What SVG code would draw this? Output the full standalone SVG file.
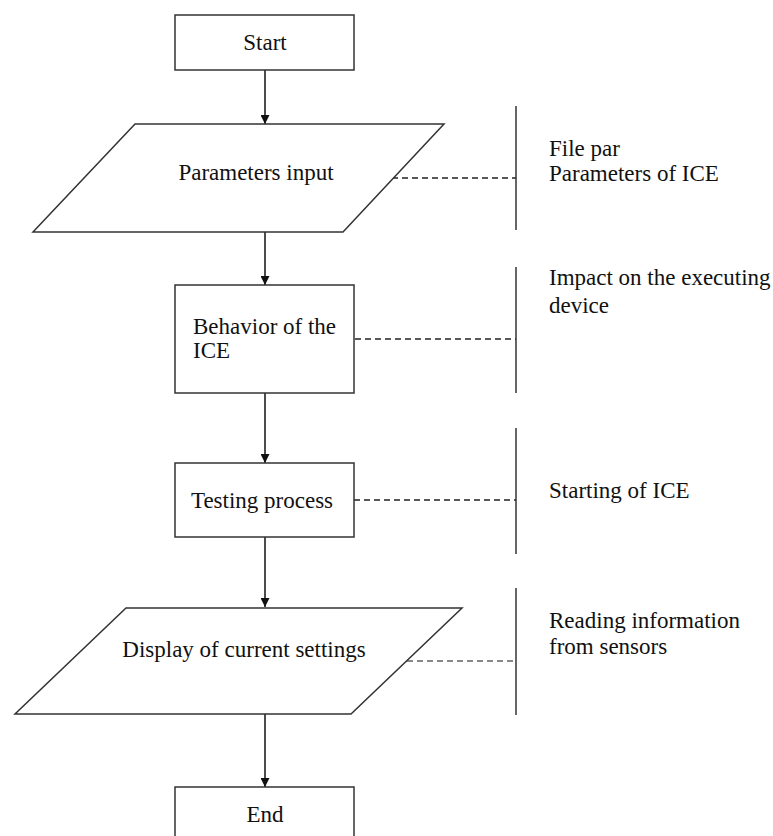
<svg xmlns="http://www.w3.org/2000/svg" width="773" height="836" viewBox="0 0 773 836">
<defs>
<style>
.shape{fill:#fff;stroke:#333;stroke-width:1.5}
.t{font-family:'Liberation Serif','Times New Roman',serif;font-size:23px;fill:#111}
.flow{stroke:#111;stroke-width:1.5;fill:none}
.dash{stroke:#222;stroke-width:1.3;stroke-dasharray:6,4;fill:none}
.dashg{stroke:#888;stroke-width:2;stroke-dasharray:6,4;fill:none}
.bar{stroke:#333;stroke-width:1.5;fill:none}
</style>
<marker id="ah" viewBox="0 0 10 10" refX="10" refY="5" markerWidth="9" markerHeight="9" markerUnits="userSpaceOnUse" orient="auto">
<path d="M0,0 L10,5 L0,10 z" fill="#111"/>
</marker>
</defs>
<rect width="773" height="836" fill="#fff"/>
<g id="connectors">
<line class="flow" x1="265" y1="70" x2="265" y2="124" marker-end="url(#ah)"/>
<line class="flow" x1="265" y1="232" x2="265" y2="285" marker-end="url(#ah)"/>
<line class="flow" x1="265" y1="393" x2="265" y2="463" marker-end="url(#ah)"/>
<line class="flow" x1="265" y1="537" x2="265" y2="607" marker-end="url(#ah)"/>
<line class="flow" x1="265" y1="714" x2="265" y2="787" marker-end="url(#ah)"/>
<line class="dash" x1="392" y1="178" x2="516" y2="178"/>
<line class="dash" x1="355" y1="339" x2="516" y2="339"/>
<line class="dash" x1="354" y1="500" x2="516" y2="500"/>
<line class="dashg" x1="407" y1="661" x2="516" y2="661"/>
</g>
<g id="start">
<rect class="shape" x="175" y="15" width="179" height="55"/>
<text class="t" x="265" y="50" text-anchor="middle">Start</text>
</g>
<g id="params-input">
<polygon class="shape" points="135,124 444,124 343,232 33,232"/>
<text class="t" x="256" y="180" text-anchor="middle">Parameters input</text>
</g>
<g id="behavior">
<rect class="shape" x="175" y="285" width="179" height="108"/>
<text class="t" x="193" y="334">Behavior of the</text>
<text class="t" x="193" y="358">ICE</text>
</g>
<g id="testing">
<rect class="shape" x="175" y="463" width="179" height="74"/>
<text class="t" x="262" y="508" text-anchor="middle">Testing process</text>
</g>
<g id="display">
<polygon class="shape" points="126,608 462,608 351,714 15,714"/>
<text class="t" x="244" y="657" text-anchor="middle">Display of current settings</text>
</g>
<g id="end">
<rect class="shape" x="175" y="787" width="179" height="60"/>
<text class="t" x="265" y="822" text-anchor="middle">End</text>
</g>
<g id="note-file">
<line class="bar" x1="516" y1="106" x2="516" y2="230"/>
<text class="t" x="549" y="156">File par</text>
<text class="t" x="549" y="181">Parameters of ICE</text>
</g>
<g id="note-impact">
<line class="bar" x1="516" y1="267" x2="516" y2="393"/>
<text class="t" x="549" y="285">Impact on the executing</text>
<text class="t" x="549" y="313">device</text>
</g>
<g id="note-starting">
<line class="bar" x1="516" y1="428" x2="516" y2="554"/>
<text class="t" x="549" y="498">Starting of ICE</text>
</g>
<g id="note-reading">
<line class="bar" x1="516" y1="588" x2="516" y2="715"/>
<text class="t" x="549" y="628">Reading information</text>
<text class="t" x="549" y="654">from sensors</text>
</g>
</svg>
